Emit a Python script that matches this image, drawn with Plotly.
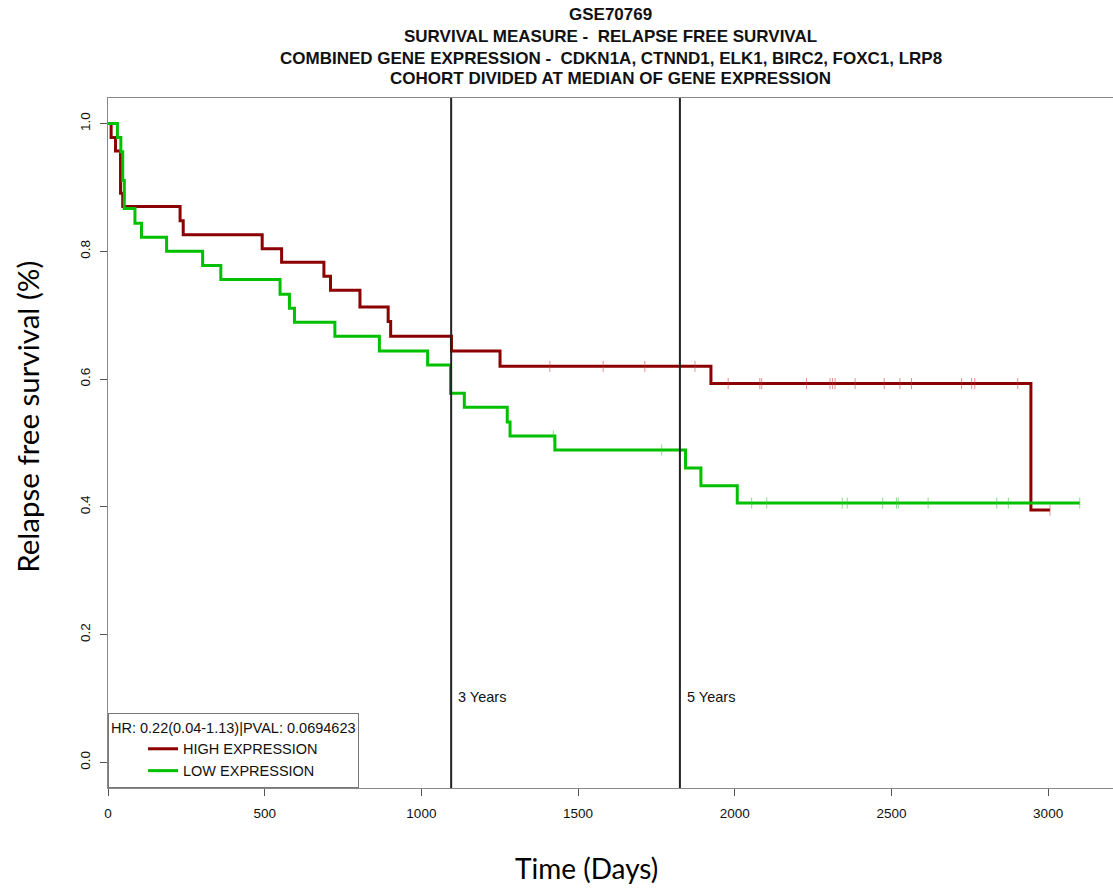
import plotly.graph_objects as go

# ---- data ----
high_days = [0, 10, 24, 40, 47, 230, 240, 492, 554, 689, 710, 804, 894, 902, 1096, 1251, 1924, 2945, 3006]
high_surv = [1.0, 0.978, 0.957, 0.891, 0.870, 0.848, 0.826, 0.804, 0.783, 0.761, 0.739, 0.713, 0.690, 0.667,
             0.644, 0.620, 0.593, 0.395, 0.395]
high_censor_days = [1410, 1580, 1713, 1873, 1979, 2080, 2086, 2229, 2304, 2312, 2320, 2384, 2477, 2527,
                    2564, 2724, 2756, 2766, 2903, 3006]

low_days = [0, 30, 41, 47, 52, 86, 107, 187, 302, 360, 549, 579, 595, 724, 866, 1020, 1093, 1137, 1274,
            1283, 1426, 1843, 1892, 2008, 3101]
low_surv = [1.0, 0.978, 0.956, 0.911, 0.867, 0.844, 0.822, 0.800, 0.778, 0.756, 0.733, 0.711, 0.689, 0.667,
            0.644, 0.622, 0.578, 0.556, 0.533, 0.511, 0.489, 0.461, 0.433, 0.406, 0.406]
low_censor_days = [1421, 1767, 2054, 2102, 2343, 2359, 2472, 2516, 2522, 2617, 2836, 2873, 3101]

milestone_days = [1095, 1825]
milestone_labels = ["3 Years", "5 Years"]

x_ticks = [0, 500, 1000, 1500, 2000, 2500, 3000]
y_ticks = [0.0, 0.2, 0.4, 0.6, 0.8, 1.0]
y_tick_labels = ["0.0", "0.2", "0.4", "0.6", "0.8", "1.0"]

title_lines = [
    "GSE70769",
    "SURVIVAL MEASURE -  RELAPSE FREE SURVIVAL",
    "COMBINED GENE EXPRESSION -  CDKN1A, CTNND1, ELK1, BIRC2, FOXC1, LRP8",
    "COHORT DIVIDED AT MEDIAN OF GENE EXPRESSION",
]
legend_title = "HR: 0.22(0.04-1.13)|PVAL: 0.0694623"
series_names = ["HIGH EXPRESSION", "LOW EXPRESSION"]

HIGH_COLOR = "#8b0000"
LOW_COLOR = "#00c000"
BASE_FONT = "Liberation Sans, Arial"
TITLE_FONT = "Lato, Noto Sans"


def surv_at(days, surv, t):
    val = surv[0]
    for d, s in zip(days, surv):
        if d <= t:
            val = s
    return val


fig = go.Figure()

fig.add_trace(go.Scatter(x=high_days, y=high_surv, mode="lines", line=dict(color=HIGH_COLOR, width=3, shape="hv"),
                         name=series_names[0]))
fig.add_trace(go.Scatter(x=low_days, y=low_surv, mode="lines", line=dict(color=LOW_COLOR, width=3, shape="hv"),
                         name=series_names[1]))

fig.add_trace(go.Scatter(x=high_censor_days, y=[surv_at(high_days, high_surv, t) for t in high_censor_days],
                         mode="markers", showlegend=False, hoverinfo="skip",
                         marker=dict(symbol="line-ns", size=8, line=dict(color="rgba(200,60,60,0.55)", width=1))))
fig.add_trace(go.Scatter(x=low_censor_days, y=[surv_at(low_days, low_surv, t) for t in low_censor_days],
                         mode="markers", showlegend=False, hoverinfo="skip",
                         marker=dict(symbol="line-ns", size=8, line=dict(color="rgba(60,200,60,0.6)", width=1))))

for d, lab in zip(milestone_days, milestone_labels):
    fig.add_shape(type="line", xref="x", yref="paper", x0=d, x1=d, y0=0, y1=1,
                  line=dict(color="#222222", width=2))
    fig.add_annotation(x=d, y=0.103, xref="x", yref="y", text=lab, showarrow=False,
                       xanchor="left", yanchor="middle", xshift=5,
                       font=dict(family=BASE_FONT, size=14.5, color="#111"))

# title lines (pixel rows measured from the top of the picture)
title_y = [14, 36, 58, 78]
for txt, py in zip(title_lines, title_y):
    fig.add_annotation(x=0.5, y=1, xref="paper", yref="paper", text="<b>" + txt + "</b>", showarrow=False,
                       xanchor="center", yanchor="middle", yshift=98 - py,
                       font=dict(family=BASE_FONT, size=17, color="#111"))

# axis titles
fig.add_annotation(x=0, y=0.538, xref="paper", yref="paper", text="Relapse free survival (%)", showarrow=False,
                   textangle=-90, xanchor="center", yanchor="middle", xshift=-80,
                   font=dict(family=TITLE_FONT, size=29.5, color="#000"))
fig.add_annotation(x=0.476, y=0, xref="paper", yref="paper", text="Time (Days)", showarrow=False,
                   xanchor="center", yanchor="middle", yshift=-80,
                   font=dict(family=TITLE_FONT, size=28, color="#000"))

fig.update_layout(
    width=1113, height=888,
    margin=dict(l=108, r=0, t=98, b=100),
    paper_bgcolor="white", plot_bgcolor="white",
    font=dict(family=BASE_FONT, size=13.5, color="#111"),
    legend=dict(x=0, y=0, xanchor="left", yanchor="bottom",
                bgcolor="white", bordercolor="#777", borderwidth=1,
                title=dict(text=legend_title, font=dict(size=14.5)),
                font=dict(size=14.5), indentation=34, tracegroupgap=0),
    xaxis=dict(range=[0, 3207], tickvals=x_ticks, ticks="outside", ticklen=7, tickcolor="#555",
               showline=True, linecolor="#888", linewidth=1, mirror=True, showgrid=False, zeroline=False,
               ticklabelstandoff=6, tickfont=dict(size=13.5)),
    yaxis=dict(range=[-0.04, 1.04], tickvals=y_ticks, ticktext=y_tick_labels, ticks="outside", ticklen=7,
               tickcolor="#555", tickangle=-90, showline=True, linecolor="#888", linewidth=1, mirror=True,
               showgrid=False, zeroline=False, ticklabelstandoff=5, tickfont=dict(size=13.5)),
)

fig.write_html("out.html")
